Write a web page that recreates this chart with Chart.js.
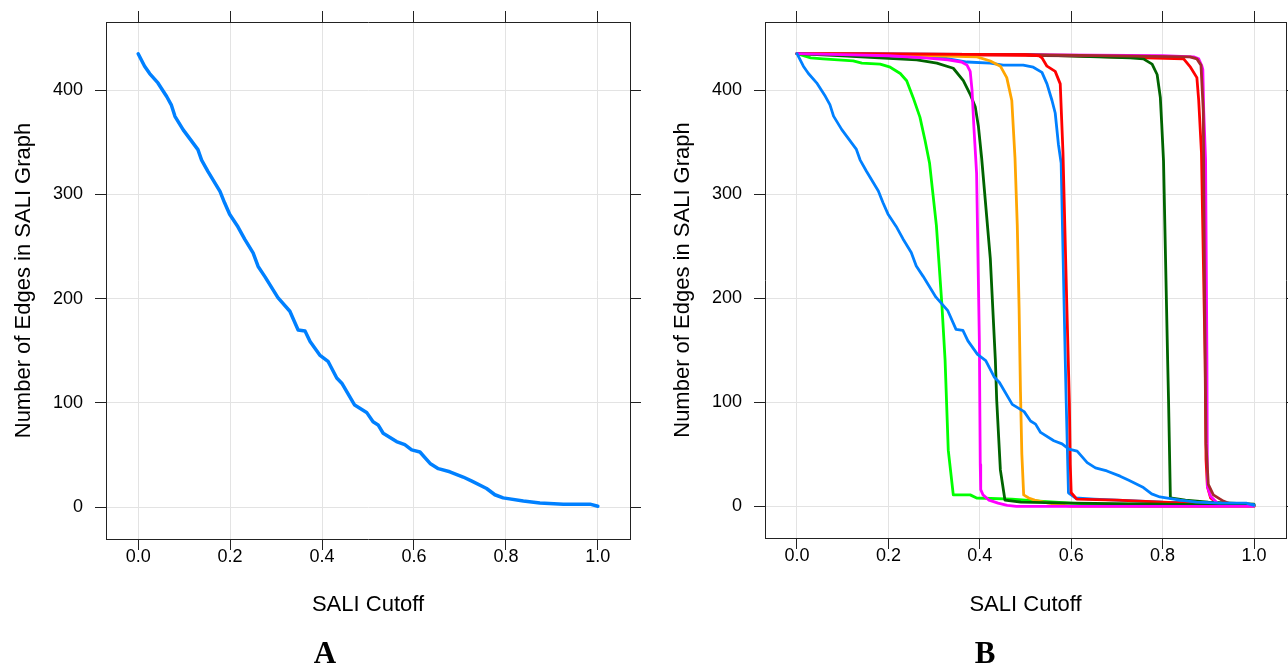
<!DOCTYPE html>
<html><head><meta charset="utf-8">
<script src="https://cdn.jsdelivr.net/npm/chart.js@4.4.1/dist/chart.umd.min.js"></script>
<style>
html,body{margin:0;padding:0;background:#fff;overflow:hidden;width:1288px;height:666px;}
#wrap{position:relative;width:1288px;height:666px;overflow:hidden;background:#fff;}
canvas{position:absolute;top:0;}
#cA{left:0}
#cB{left:644px}
.lab{position:absolute;font-family:"Liberation Serif","DejaVu Serif",serif;font-weight:bold;font-size:31px;line-height:1;top:637px;transform:translateX(-50%);color:#000;}
</style></head><body><div id="wrap">
<canvas id="cA" width="644" height="666"></canvas>
<canvas id="cB" width="660" height="666"></canvas>
<div class="lab" style="left:325px">A</div>
<div class="lab" style="left:985px">B</div>
</div>
<script>
// ---- tick values / labels ----
const xTickVals = [0, 0.2, 0.4, 0.6, 0.8, 1.0];
const xTickLabels = ['0.0', '0.2', '0.4', '0.6', '0.8', '1.0'];
const yTickVals = [0, 100, 200, 300, 400];
const yTickLabels = ['0', '100', '200', '300', '400'];
const xTitle = 'SALI Cutoff';
const yTitle = 'Number of Edges in SALI Graph';

// ---- panel A (also first series of panel B) ----
const cutoffA = [0, 0.014, 0.025, 0.043, 0.062, 0.072, 0.080, 0.098, 0.130, 0.138, 0.152, 0.178, 0.188, 0.199, 0.217, 0.232, 0.250, 0.261, 0.276, 0.304, 0.330, 0.348, 0.363, 0.374, 0.395, 0.413, 0.432, 0.443, 0.471, 0.497, 0.511, 0.522, 0.533, 0.562, 0.580, 0.595, 0.613, 0.635, 0.653, 0.678, 0.707, 0.726, 0.758, 0.776, 0.794, 0.838, 0.874, 0.925, 0.983, 1.0];
const edgesA = [435, 423, 416, 407, 394, 386, 375, 362, 343, 333, 322, 303, 292, 281, 269, 257, 244, 231, 221, 201, 188, 170, 169, 159, 146, 140, 124, 119, 98, 91, 82, 79, 71, 63, 60, 55, 53, 42, 37, 34, 29, 25, 18, 12, 9, 6, 4, 3, 3, 1];

// ---- panel B series ----
const g2Cutoff = [0, 0.1, 0.2, 0.28, 0.33, 0.36, 0.372, 0.379, 0.383, 0.387, 0.393, 0.399, 0.401, 0.402, 0.407, 0.42, 0.44, 0.46, 0.48, 1.0];
const g2Edges  = [435, 434, 433, 431, 429, 427, 424, 418, 400, 365, 320, 160, 40, 16, 11, 6, 3, 1, 0, 0];

const g3Cutoff = [0, 0.1, 0.18, 0.262, 0.276, 0.306, 0.342, 0.364, 0.379, 0.390, 0.397, 0.404, 0.423, 0.434, 0.437, 0.445, 0.455, 0.49, 0.6, 0.8, 1.0];
const g3Edges  = [435, 433, 431, 429, 428, 426, 421, 409, 396, 384, 365, 335, 238, 141, 102, 35, 6, 4, 3, 2, 1];

const g4Cutoff = [0, 0.5, 0.53, 0.536, 0.547, 0.565, 0.576, 0.582, 0.590, 0.596, 0.598, 0.600, 0.612, 0.7, 0.8, 0.9, 1.0];
const g4Edges  = [435, 434, 433, 431, 423, 418, 406, 340, 200, 100, 40, 13, 7, 6, 4, 2, 1];

const g5Cutoff = [0, 0.2, 0.3, 0.394, 0.423, 0.445, 0.459, 0.470, 0.477, 0.482, 0.486, 0.489, 0.492, 0.496, 0.507, 0.52, 0.55, 0.6, 1.0];
const g5Edges  = [435, 434, 433, 432, 428, 423, 412, 390, 335, 270, 190, 110, 50, 11, 8, 6, 3, 0, 0];

const g6Cutoff = [0, 0.03, 0.057, 0.123, 0.142, 0.182, 0.204, 0.226, 0.240, 0.254, 0.269, 0.280, 0.290, 0.305, 0.317, 0.324, 0.331, 0.342, 0.379, 0.393, 0.47, 0.53, 0.6, 0.7, 0.75, 1.0];
const g6Edges  = [435, 431, 430, 428, 426, 425, 422, 416, 409, 393, 374, 352, 330, 270, 194, 141, 54, 11, 11, 8, 7, 5, 3, 1, 0, 0];

const g7Cutoff = [0, 0.5, 0.86, 0.875, 0.884, 0.889, 0.892, 0.895, 0.900, 0.911, 0.933, 0.95, 1.0];
const g7Edges  = [435, 434, 432, 430, 424, 380, 200, 60, 21, 11, 5, 2, 0];

const g8Cutoff = [0, 0.1, 0.2, 0.32, 0.372, 0.423, 0.451, 0.495, 0.517, 0.536, 0.547, 0.558, 0.565, 0.572, 0.578, 0.587, 0.589, 0.594, 0.609, 0.65, 0.7, 0.8, 0.9, 1.0];
const g8Edges  = [435, 434, 433, 431, 427, 426, 424, 424, 422, 417, 406, 390, 378, 348, 330, 141, 102, 13, 8, 7, 6, 4, 3, 1.6];

const g9Cutoff = [0, 0.5, 0.8, 0.868, 0.879, 0.886, 0.888, 0.890, 0.894, 0.897, 0.898, 0.905, 0.92, 0.95, 1.0];
const g9Edges  = [435, 434, 433, 432, 430, 423, 420, 380, 333, 141, 19, 9.6, 3, 1, 0];

const g10Cutoff = [0, 0.5, 0.729, 0.758, 0.777, 0.788, 0.795, 0.798, 0.802, 0.811, 0.813, 0.817, 0.85, 0.9, 1.0];
const g10Edges  = [435, 434, 431, 430, 425, 415, 393, 368, 332, 141, 102, 8, 6, 4, 2];

const g11Cutoff = [0, 0.3, 0.6, 0.846, 0.861, 0.875, 0.879, 0.885, 0.893, 0.895, 0.898, 0.905, 0.919, 1.0];
const g11Edges  = [435, 434, 433, 430, 422, 412, 390, 340, 141, 45, 19, 8, 3, 0.5];

// ---- styles ----
const seriesColors = ['#0080ff', '#ff00ff', '#006400', '#ff0000', '#ffa500', '#00ff00', '#a52a2a', '#0080ff', '#ff00ff', '#006400', '#ff0000'];
const FONT = "'Liberation Sans', Arimo, Arial, sans-serif";
const FRAME = '#222222';
const GRID = '#e3e3e3';
const xMin = -0.07, xMax = 1.07, yMin = -30.45, yMax = 465.45;

const pts = (xs, ys) => xs.map((x, i) => ({ x: x, y: ys[i] }));
const setTicks = vals => s => { s.ticks = vals.map(v => ({ value: v })); };

function ds(xs, ys, color, w) {
  return { data: pts(xs, ys), borderColor: color, backgroundColor: color, borderWidth: w,
    showLine: true, pointRadius: 0, pointHoverRadius: 0, fill: false, tension: 0,
    borderJoinStyle: 'round', borderCapStyle: 'round', xAxisID: 'x', yAxisID: 'y' };
}

function makeChart(id, datasets, g) {
  const border = { display: true, color: FRAME, width: 1 };
  return new Chart(document.getElementById(id), {
    type: 'scatter',
    data: { datasets: datasets },
    options: {
      responsive: false, animation: false, devicePixelRatio: 1,
      layout: { padding: 0 },
      plugins: { legend: { display: false }, tooltip: { enabled: false } },
      scales: {
        x: { type: 'linear', axis: 'x', position: 'bottom', min: xMin, max: xMax,
          afterBuildTicks: setTicks(xTickVals),
          afterFit: s => { s.height = g.bottomH; },
          ticks: { callback: (v, i) => xTickLabels[i], font: { family: FONT, size: 18, lineHeight: 1 }, color: '#000', padding: g.xTickPad, maxRotation: 0, autoSkip: false },
          grid: { color: GRID, lineWidth: 1, tickColor: FRAME, tickLength: 11, tickWidth: 1 },
          border: border,
          title: { display: true, text: xTitle, font: { family: FONT, size: 22 }, color: '#000', padding: { top: 0, bottom: g.xTitlePad } } },
        x2: { type: 'linear', axis: 'x', position: 'top', min: xMin, max: xMax,
          afterBuildTicks: setTicks(xTickVals),
          afterFit: s => { s.height = g.topH; },
          ticks: { display: false },
          grid: { drawOnChartArea: false, tickColor: FRAME, tickLength: 11, tickWidth: 1 },
          border: border },
        y: { type: 'linear', axis: 'y', position: 'left', min: yMin, max: yMax,
          afterBuildTicks: setTicks(yTickVals),
          afterFit: s => { s.width = g.leftW; },
          ticks: { callback: (v, i) => yTickLabels[i], font: { family: FONT, size: 18, lineHeight: 1 }, color: '#000', padding: 12, autoSkip: false },
          grid: { color: GRID, lineWidth: 1, tickColor: FRAME, tickLength: 11, tickWidth: 1 },
          border: border,
          title: { display: true, text: yTitle, font: { family: FONT, size: 22 }, color: '#000', padding: { top: g.yTitlePad, bottom: 0 } } },
        y2: { type: 'linear', axis: 'y', position: 'right', min: yMin, max: yMax,
          afterBuildTicks: setTicks(yTickVals),
          afterFit: s => { s.width = g.rightW; },
          ticks: { display: false },
          grid: { drawOnChartArea: false, tickColor: FRAME, tickLength: 11, tickWidth: 1 },
          border: border }
      }
    }
  });
}

makeChart('cA', [ds(cutoffA, edgesA, seriesColors[0], 3.5)],
  { leftW: 106, rightW: 14, topH: 22, bottomH: 127, xTickPad: -2, xTitlePad: 48, yTitlePad: 11 });

const bX = [cutoffA, g2Cutoff, g3Cutoff, g4Cutoff, g5Cutoff, g6Cutoff, g7Cutoff, g8Cutoff, g9Cutoff, g10Cutoff, g11Cutoff];
const bY = [edgesA, g2Edges, g3Edges, g4Edges, g5Edges, g6Edges, g7Edges, g8Edges, g9Edges, g10Edges, g11Edges];
makeChart('cB', bX.map((xs, i) => ds(xs, bY[i], seriesColors[i], 2.8)),
  { leftW: 121, rightW: 18, topH: 22, bottomH: 128, xTickPad: -2, xTitlePad: 48, yTitlePad: 26 });
</script>
</body></html>
